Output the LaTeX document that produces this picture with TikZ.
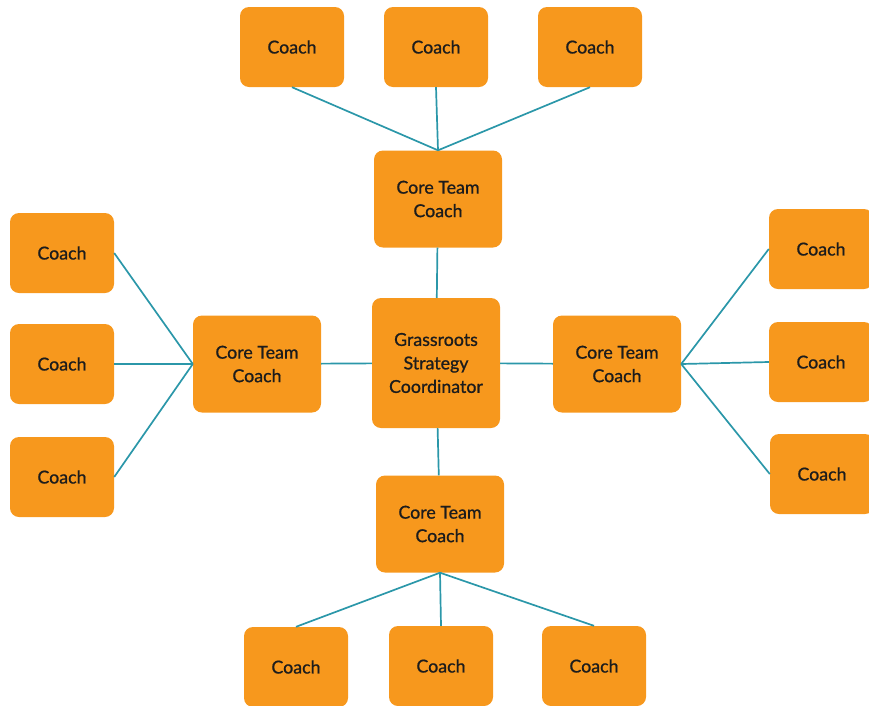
\documentclass[tikz,border=0pt]{standalone}
\usepackage{fontspec}
\setmainfont{Lato}
\newfontfamily\coachfont[FakeBold=0.9]{Lato}
\usetikzlibrary{calc}
\definecolor{coachorange}{HTML}{F7981D}
\definecolor{linkteal}{HTML}{2B97A9}
\definecolor{labelink}{HTML}{1C1C1C}
\tikzstyle{coach} = [
	rectangle,
	rounded corners = 9pt,
	fill = coachorange,
	text = labelink,
	minimum width = 104pt,
	minimum height = 80pt,
	font = \coachfont\fontsize{17.8}{23.5}\selectfont
	]
\tikzstyle{core} = [
	coach,
	align = center,
	minimum width = 128pt,
	minimum height = 97pt
	]
\tikzstyle{hub} = [
	core,
	minimum height = 130pt
	]
\tikzstyle{link} = [
	linkteal,
	line width = 1.7pt,
	draw
	]

\begin{document}
\begin{tikzpicture}[x=1pt,y=-1pt]
		\clip (0,0) rectangle (869,705);
		\node[hub] (gsc) at (436,363) {Grassroots\\Strategy\\Coordinator};
		\node[core] (ctop) at (438,199) {Core Team\\Coach};
		\node[core] (cleft) at (257,364) {Core Team\\Coach};
		\node[core] (cright) at (617,364) {Core Team\\Coach};
		\node[core] (cbot) at (440,524) {Core Team\\Coach};
		% outer coaches
		\node[coach] (t1) at (292,47) {Coach};
		\node[coach] (t2) at (436,47) {Coach};
		\node[coach] (t3) at (590,47) {Coach};
		\node[coach] (l1) at (62,253) {Coach};
		\node[coach] (l2) at (62,364) {Coach};
		\node[coach] (l3) at (62,477) {Coach};
		\node[coach] (r1) at (821,249) {Coach};
		\node[coach] (r2) at (821,362) {Coach};
		\node[coach] (r3) at (822,474) {Coach};
		\node[coach] (b1) at (296,667) {Coach};
		\node[coach] (b2) at (441,666) {Coach};
		\node[coach] (b3) at (594,666) {Coach};
		\draw[link] (ctop) -- (gsc);
		\draw[link] (cbot) -- (gsc);
		\draw[link] (cleft) -- (gsc);
		\draw[link] (cright) -- (gsc);
		\foreach \c in {t1,t2,t3} \draw[link] (\c.south) -- (ctop.north);
		\foreach \c in {l1,l2,l3} \draw[link] (\c.east) -- (cleft.west);
		\foreach \c in {r1,r2,r3} \draw[link] (cright.east) -- (\c.west);
		\foreach \c in {b1,b2,b3} \draw[link] (cbot.south) -- (\c.north);
	\end{tikzpicture}
\end{document}
